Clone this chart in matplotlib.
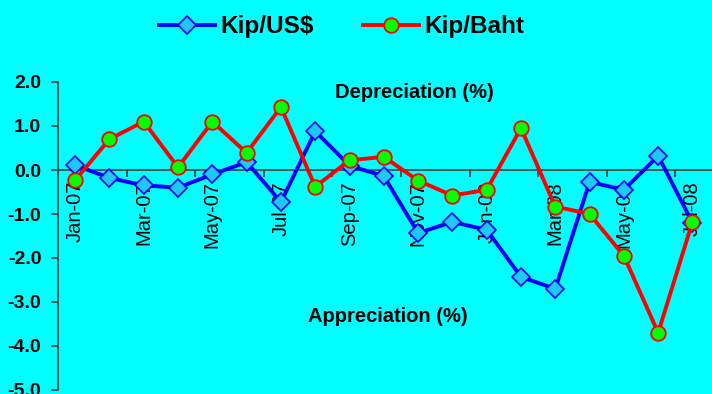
import matplotlib.pyplot as plt
import numpy as np

# monthly change of the kip (%), Jan-07 .. Jul-08
months = ["Jan-07", "Feb-07", "Mar-07", "Apr-07", "May-07", "Jun-07", "Jul-07",
          "Aug-07", "Sep-07", "Oct-07", "Nov-07", "Dec-07", "Jan-08", "Feb-08",
          "Mar-08", "Apr-08", "May-08", "Jun-08", "Jul-08"]
kip_usd = [0.11, -0.18, -0.35, -0.40, -0.10, 0.18, -0.73, 0.88, 0.10, -0.14,
           -1.43, -1.18, -1.36, -2.43, -2.70, -0.27, -0.45, 0.32, -1.20]
kip_baht = [-0.23, 0.70, 1.10, 0.06, 1.10, 0.39, 1.43, -0.38, 0.22, 0.30,
            -0.24, -0.58, -0.45, 0.95, -0.83, -1.00, -1.95, -3.70, -1.18]
y_ticks = [-5, -4, -3, -2, -1, 0, 1, 2]

plt.rcParams['font.family'] = ['Liberation Sans', 'DejaVu Sans']
bg = "#00FFFF"
axis_col = "#404040"

fig = plt.figure(figsize=(7.12, 3.94), dpi=100, facecolor=bg)
ax = fig.add_axes([58 / 712, 4 / 394, 654 / 712, 308 / 394], facecolor=bg)

x = np.arange(len(months))
ax.plot(x, kip_usd, color="#0000FF", lw=2.8, marker="D", ms=9,
        mfc="#1EC8FF", mec="#0000FF", mew=1.2, label="Kip/US$", zorder=3)
ax.plot(x, kip_baht, color="#FF0000", lw=2.8, marker="o", ms=10.5,
        mfc="#00FF00", mec="#FF0000", mew=1.3, label="Kip/Baht", zorder=4)

ax.set_xlim(-0.5, 18.57)
ax.set_ylim(-5, 2)

# spines: left axis and the zero line only
for side in ["top", "right"]:
    ax.spines[side].set_visible(False)
ax.spines["bottom"].set_position(("data", 0))
for side in ["left", "bottom"]:
    ax.spines[side].set_color(axis_col)
    ax.spines[side].set_linewidth(1.2)

ax.set_yticks(y_ticks)
ax.set_yticklabels([f"{v:.1f}" for v in y_ticks], fontsize=14, fontweight="bold")
ax.tick_params(axis="y", direction="out", length=5, width=1.2, color=axis_col, pad=7)

# tick marks between every second month, labels on the months themselves
ax.set_xticks(np.arange(1.5, len(months), 2))
ax.set_xticklabels([])
ax.tick_params(axis="x", which="major", direction="out", length=5, width=1.2, color=axis_col)
ax.set_xticks(x[::2], minor=True)
ax.set_xticklabels(months[::2], minor=True, rotation=90, fontsize=14.5, va="top", ha="center")
ax.tick_params(axis="x", which="minor", length=0, pad=8)

ax.text(9.88, 1.75, "Depreciation (%)", fontsize=14.5, fontweight="bold",
        ha="center", va="center")
ax.text(9.12, -3.32, "Appreciation (%)", fontsize=14.5, fontweight="bold",
        ha="center", va="center")

fig.legend(loc="center", bbox_to_anchor=(0.48, 0.932), ncol=2, frameon=False,
           prop={"size": 17.5, "weight": "bold"}, handlelength=2.3,
           handletextpad=0.25, columnspacing=2.0)

fig.savefig("out.png", dpi=100, facecolor=bg)
